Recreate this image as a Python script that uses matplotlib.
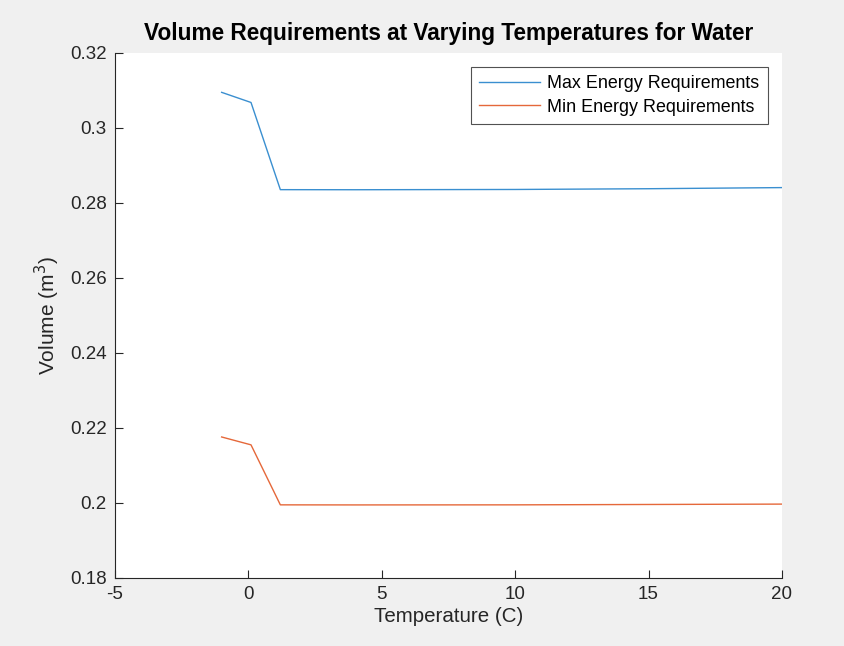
import matplotlib
matplotlib.use("Agg")
import matplotlib.pyplot as plt

plt.rcParams['font.family'] = ['Liberation Sans', 'DejaVu Sans']
plt.rcParams['axes.unicode_minus'] = False

# Temperature (C) and volumes (m^3)
temperature = [-1, 0.1, 1.2, 4, 10, 15, 20]
max_volume = [0.3095, 0.3068, 0.28355, 0.28353, 0.2836, 0.2838, 0.2841]
min_volume = [0.2176, 0.2155, 0.1995, 0.19948, 0.1995, 0.1996, 0.1997]

blue = '#3a8fd0'
orange = '#e5683a'
axis_color = '#262626'

fig = plt.figure(figsize=(8.45, 6.46), dpi=100, facecolor='#f0f0f0')
ax = fig.add_axes([0.136, 0.1053, 0.7894, 0.8127])
ax.set_facecolor('white')

ax.plot(temperature, max_volume, color=blue, linewidth=1.0, label='Max Energy Requirements')
ax.plot(temperature, min_volume, color=orange, linewidth=1.0, label='Min Energy Requirements')

ax.set_xlim(-5, 20)
ax.set_ylim(0.18, 0.32)
ax.set_xticks([-5, 0, 5, 10, 15, 20])
ax.set_yticks([0.18, 0.2, 0.22, 0.24, 0.26, 0.28, 0.3, 0.32])
ax.set_yticklabels(['0.18', '0.2', '0.22', '0.24', '0.26', '0.28', '0.3', '0.32'])

for side in ['top', 'right']:
    ax.spines[side].set_visible(False)
for side in ['left', 'bottom']:
    ax.spines[side].set_color(axis_color)
    ax.spines[side].set_linewidth(0.8)
ax.tick_params(direction='in', length=6, width=0.8, colors=axis_color,
               labelsize=13.5, pad=6)

ax.set_xlabel('Temperature (C)', fontsize=14.8, color=axis_color, labelpad=3)
ax.set_ylabel('Volume (m$^3$)', fontsize=15, color=axis_color, labelpad=6)
ax.set_title('Volume Requirements at Varying Temperatures for Water',
             fontsize=16.3, fontweight='bold', color='black', pad=9)

leg = ax.legend(loc='upper right', fontsize=12.9, frameon=True, fancybox=False,
                borderaxespad=0.8, handlelength=3.4, handletextpad=0.4,
                labelspacing=0.35, borderpad=0.45)
leg.get_frame().set_edgecolor(axis_color)
leg.get_frame().set_linewidth(0.8)

fig.savefig('out.png', dpi=100, facecolor=fig.get_facecolor())
